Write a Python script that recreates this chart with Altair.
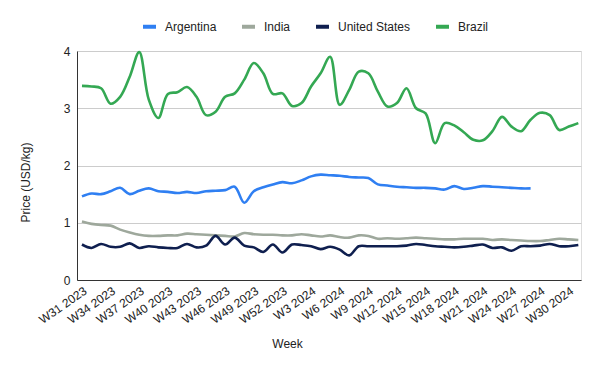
import altair as alt
import pandas as pd

weeks = [f"W{w} 2023" for w in range(31, 53)] + [f"W{w} 2024" for w in range(1, 32)]

countries = ["Argentina", "India", "United States", "Brazil"]
colors = ["#2f7ff2", "#9ea89c", "#0f1f4f", "#34a853"]

brazil = [3.39, 3.38, 3.35, 3.08, 3.20, 3.55, 3.98, 3.15, 2.83, 3.25,
          3.28, 3.37, 3.20, 2.88, 2.94, 3.20, 3.26, 3.50, 3.79, 3.61,
          3.25, 3.26, 3.04, 3.09, 3.38, 3.61, 3.90, 3.06, 3.32, 3.64,
          3.61, 3.29, 3.03, 3.09, 3.35, 3.00, 2.91, 2.39, 2.74, 2.70,
          2.58, 2.45, 2.44, 2.60, 2.85, 2.68, 2.60, 2.80, 2.92, 2.88,
          2.62, 2.68, 2.74]

argentina = [1.46, 1.51, 1.50, 1.55, 1.61, 1.50, 1.56, 1.60, 1.55, 1.54,
             1.52, 1.54, 1.52, 1.55, 1.56, 1.57, 1.63, 1.35, 1.55, 1.62,
             1.67, 1.71, 1.69, 1.74, 1.81, 1.84, 1.83, 1.82, 1.80, 1.79,
             1.78, 1.67, 1.65, 1.63, 1.62, 1.61, 1.61, 1.60, 1.58, 1.64,
             1.59, 1.61, 1.64, 1.63, 1.62, 1.61, 1.60, 1.60]

india = [1.02, 0.98, 0.96, 0.95, 0.88, 0.83, 0.79, 0.77, 0.77, 0.78,
         0.78, 0.81, 0.80, 0.79, 0.78, 0.77, 0.76, 0.82, 0.80, 0.79,
         0.79, 0.78, 0.78, 0.80, 0.78, 0.76, 0.78, 0.75, 0.74, 0.78,
         0.77, 0.72, 0.73, 0.72, 0.73, 0.74, 0.73, 0.72, 0.71, 0.71,
         0.72, 0.72, 0.72, 0.70, 0.71, 0.70, 0.69, 0.68, 0.68, 0.70,
         0.72, 0.71, 0.70]

united_states = [0.62, 0.56, 0.63, 0.58, 0.58, 0.64, 0.56, 0.59, 0.57, 0.56,
                 0.56, 0.63, 0.57, 0.60, 0.77, 0.62, 0.74, 0.60, 0.57, 0.49,
                 0.62, 0.48, 0.62, 0.61, 0.59, 0.54, 0.58, 0.53, 0.43, 0.59,
                 0.59, 0.59, 0.59, 0.59, 0.60, 0.63, 0.61, 0.59, 0.58, 0.57,
                 0.58, 0.60, 0.62, 0.56, 0.57, 0.51, 0.59, 0.59, 0.60, 0.63,
                 0.59, 0.59, 0.61]

series = {"Argentina": argentina, "India": india,
          "United States": united_states, "Brazil": brazil}

rows = []
for name, vals in series.items():
    for i, v in enumerate(vals):
        rows.append({"idx": i, "Week": weeks[i], "Country": name, "Price": v})
df = pd.DataFrame(rows)

tick_idx = list(range(0, 52, 3))
label_expr = "[" + ",".join(f"'{w}'" for w in weeks) + "][datum.value]"
FONT = "Liberation Sans"

chart = alt.Chart(df).mark_line(
    interpolate="catmull-rom", strokeWidth=2.6
).encode(
    x=alt.X("idx:Q",
            scale=alt.Scale(domain=[-0.52, 52.28], nice=False, zero=False),
            axis=alt.Axis(values=tick_idx, labelExpr=label_expr, labelAngle=-35,
                          labelAlign="right", labelBaseline="top", labelPadding=5,
                          ticks=False, grid=False, domainColor="#333333",
                          labelColor="#222222", labelFontSize=12, labelFont=FONT,
                          title="Week", titleFont=FONT, titleFontSize=12,
                          titleFontWeight="normal", titleColor="#222222",
                          titleX=210, titleY=63, titleBaseline="middle",
                          labelOverlap=False)),
    y=alt.Y("Price:Q",
            scale=alt.Scale(domain=[0, 4], nice=False),
            axis=alt.Axis(values=[0, 1, 2, 3, 4], ticks=False, labelPadding=7,
                          gridColor="#cccccc", domainColor="#333333",
                          labelColor="#222222", labelFontSize=12, labelFont=FONT,
                          title="Price (USD/kg)", titleFont=FONT, titleFontSize=12,
                          titleFontWeight="normal", titleColor="#222222",
                          titleX=-45, titleY=131, titleAngle=-90,
                          titleBaseline="bottom", titleAlign="center")),
    color=alt.Color("Country:N",
                    scale=alt.Scale(domain=countries, range=colors),
                    sort=countries,
                    legend=alt.Legend(orient="none", direction="horizontal",
                                      legendX=64, legendY=-33, title=None,
                                      symbolType="stroke", symbolStrokeWidth=4,
                                      symbolSize=169, labelFont=FONT,
                                      labelFontSize=12, labelColor="#222222",
                                      columnPadding=17, labelOffset=7,
                                      padding=0)),
    detail="Country:N",
).properties(
    width=504, height=229,
    autosize=alt.AutoSizeParams(type="none"),
    padding={"left": 69, "top": 43, "right": 10, "bottom": 80},
).configure_view(stroke=None).configure(background="white")

chart.save("out.html", embed_options={"renderer": "svg", "actions": False})
